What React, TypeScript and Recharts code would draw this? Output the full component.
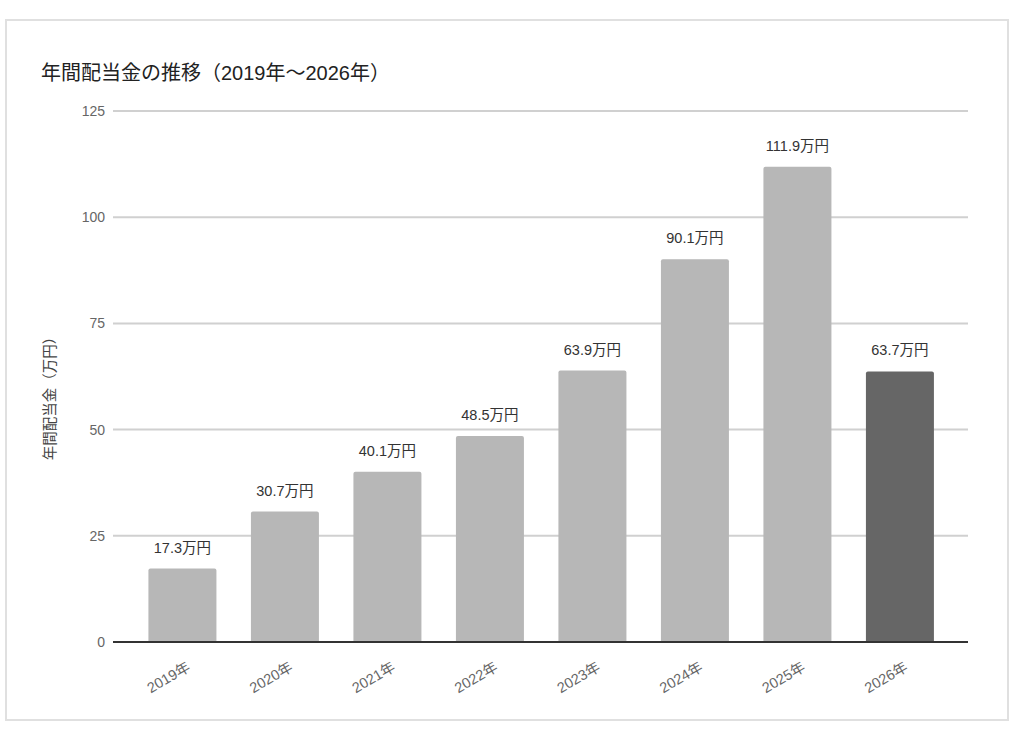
import React from "react";
import {
  BarChart,
  Bar,
  XAxis,
  YAxis,
  CartesianGrid,
  Cell,
  LabelList,
} from "recharts";

const years = ["2019年", "2020年", "2021年", "2022年", "2023年", "2024年", "2025年", "2026年"];
const dividends = [17.3, 30.7, 40.1, 48.5, 63.9, 90.1, 111.9, 63.7];
const yTicks = [0, 25, 50, 75, 100, 125];

const data = years.map((year, i) => ({ year, value: dividends[i] }));

const FONT = "'Liberation Sans', 'Noto Sans CJK JP', sans-serif";

const YearTick = (props: any) => {
  const { x, y, payload } = props;
  return (
    <g transform={`translate(${x + 9},${y + 20})`}>
      <text
        textAnchor="end"
        transform="rotate(-30)"
        fontSize={14.5}
        fill="#666"
        fontFamily={FONT}
      >
        {payload.value}
      </text>
    </g>
  );
};

const ValueLabel = (props: any) => {
  const { x, y, width, value } = props;
  const cx = x + width / 2;
  const text = `${value}万円`;
  const w = 64;
  return (
    <g>
      <rect x={cx - w / 2} y={y - 31} width={w} height={20} fill="#fff" />
      <text
        x={cx}
        y={y - 16}
        textAnchor="middle"
        fontSize={14.5}
        fill="#333"
        fontFamily={FONT}
      >
        {text}
      </text>
    </g>
  );
};

export default function App() {
  return (
    <div
      style={{
        position: "absolute",
        left: 0,
        top: 0,
        width: 1024,
        height: 739,
        background: "#fff",
        fontFamily: FONT,
      }}
    >
      <div
        style={{
          position: "absolute",
          left: 5,
          top: 19,
          width: 1000,
          height: 698,
          border: "2px solid #e0e0e0",
        }}
      />
      <div
        style={{
          position: "absolute",
          left: 41,
          top: 57,
          fontSize: 20,
          color: "#222",
          whiteSpace: "nowrap",
        }}
      >
        年間配当金の推移（2019年〜2026年）
      </div>
      <div
        style={{
          position: "absolute",
          left: 48,
          top: 395,
          transform: "translate(-50%, -50%) rotate(-90deg)",
          fontSize: 14.5,
          color: "#444",
          whiteSpace: "nowrap",
        }}
      >
        年間配当金（万円）
      </div>
      <div style={{ position: "absolute", left: 0, top: 0 }}>
        <BarChart
          width={1024}
          height={739}
          data={data}
          margin={{ top: 111, right: 56, bottom: 37, left: 0 }}
          barCategoryGap="17%"
        >
          <CartesianGrid vertical={false} stroke="#d0d0d0" strokeWidth={2} />
          <XAxis
            dataKey="year"
            height={60}
            padding={{ left: 18, right: 17 }}
            tickLine={false}
            axisLine={{ stroke: "#333", strokeWidth: 2 }}
            tick={<YearTick />}
            interval={0}
          />
          <YAxis
            width={113}
            domain={[0, 125]}
            ticks={yTicks}
            axisLine={false}
            tickLine={false}
            tick={{ fontSize: 14, fill: "#666", fontFamily: FONT }}
          />
          <Bar dataKey="value" radius={[2, 2, 0, 0]} isAnimationActive={false}>
            {data.map((d, i) => (
              <Cell key={d.year} fill={i === data.length - 1 ? "#666666" : "#b7b7b7"} />
            ))}
            <LabelList dataKey="value" content={<ValueLabel />} />
          </Bar>
        </BarChart>
      </div>
    </div>
  );
}
